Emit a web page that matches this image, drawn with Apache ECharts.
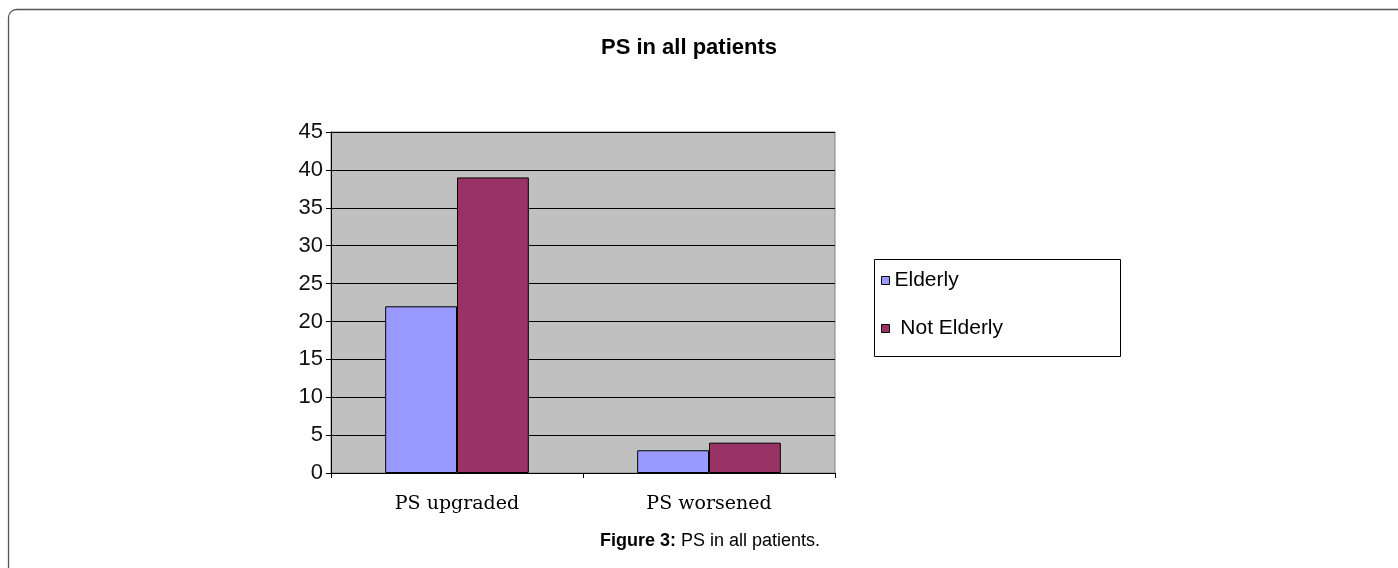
<!DOCTYPE html>
<html>
<head>
<meta charset="utf-8">
<style>
  html, body { margin: 0; padding: 0; background: #fff; }
  #chart { width: 1398px; height: 568px; }
</style>
<script src="https://cdn.jsdelivr.net/npm/echarts@6/dist/echarts.min.js"></script>
</head>
<body>
<div id="chart"></div>
<script>
// Performance status change by age group
const categories = ['PS upgraded', 'PS worsened'];
const elderly = [22, 3];
const notElderly = [39, 4];
const seriesNames = ['Elderly', 'Not Elderly'];

const chart = echarts.init(document.getElementById('chart'));

chart.setOption({
  animation: false,
  backgroundColor: '#ffffff',
  graphic: [
    {
      type: 'rect',
      shape: { x: 8.5, y: 9.5, width: 1420, height: 600, r: 8 },
      style: { fill: 'none', stroke: '#555', lineWidth: 1.3 },
      silent: true
    },
    {
      type: 'text',
      x: 689,
      y: 48,
      style: {
        text: 'PS in all patients',
        align: 'center',
        verticalAlign: 'middle',
        fontFamily: 'Liberation Sans, Arial',
        fontSize: 22,
        fontWeight: 'bold',
        fill: '#000'
      }
    },
    {
      type: 'rect',
      shape: { x: 874.5, y: 259.5, width: 246, height: 97 },
      style: { fill: '#fff', stroke: '#000', lineWidth: 1 },
      z: 1,
      silent: true
    },
    {
      type: 'text',
      x: 710,
      y: 541,
      style: {
        text: '{b|Figure 3:} PS in all patients.',
        align: 'center',
        verticalAlign: 'middle',
        rich: {
          b: { fontFamily: 'Liberation Sans, Arial', fontSize: 18, fontWeight: 'bold', fill: '#000' }
        },
        fontFamily: 'Liberation Sans, Arial',
        fontSize: 18,
        fill: '#000'
      }
    }
  ],
  legend: {
    orient: 'vertical',
    left: 876,
    top: 265,
    z: 5,
    icon: 'rect',
    itemWidth: 8,
    itemHeight: 8,
    itemGap: 27,
    data: seriesNames,
    itemStyle: { borderColor: '#000', borderWidth: 1 },
    textStyle: { fontFamily: 'Liberation Sans, Arial', fontSize: 21, color: '#000' },
    formatter: function (name) { return name === 'Not Elderly' ? ' ' + name : name; }
  },
  grid: {
    left: 331,
    top: 132,
    width: 504,
    height: 341,
    show: true,
    backgroundColor: '#c0c0c0',
    borderColor: '#808080',
    borderWidth: 1
  },
  xAxis: {
    type: 'category',
    data: categories,
    axisLine: { show: true, lineStyle: { color: '#000', width: 1 } },
    axisTick: { show: true, length: 5, lineStyle: { color: '#000' } },
    axisLabel: { fontFamily: 'DejaVu Serif, Liberation Serif', fontSize: 19, color: '#000', margin: 22 },
    splitLine: { show: false }
  },
  yAxis: {
    type: 'value',
    min: 0,
    max: 45,
    interval: 5,
    axisLine: { show: true, lineStyle: { color: '#000', width: 1 } },
    axisTick: { show: true, length: 5, lineStyle: { color: '#000' } },
    axisLabel: { fontFamily: 'Liberation Sans, Arial', fontSize: 22, color: '#111', margin: 8 },
    splitLine: { show: true, lineStyle: { color: '#000', width: 1 } }
  },
  series: [
    {
      name: 'Elderly',
      type: 'bar',
      data: elderly,
      barGap: '0%',
      barCategoryGap: '43%',
      itemStyle: { color: '#9999ff', borderColor: '#000', borderWidth: 1 }
    },
    {
      name: 'Not Elderly',
      type: 'bar',
      data: notElderly,
      barGap: '0%',
      barCategoryGap: '43%',
      itemStyle: { color: '#993366', borderColor: '#000', borderWidth: 1 }
    }
  ]
});
</script>
</body>
</html>
